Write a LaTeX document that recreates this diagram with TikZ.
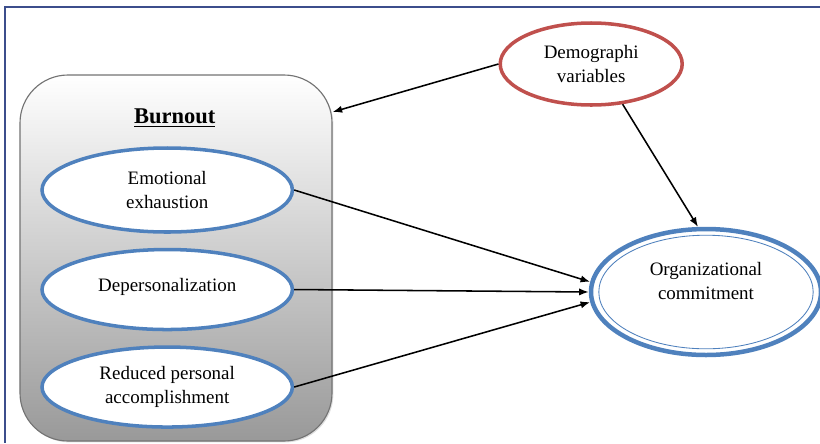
\documentclass[tikz,border=0pt]{standalone}
\usepackage{fontspec}
\setmainfont{Liberation Serif}
\usepackage{xcolor}
\usetikzlibrary{positioning, arrows.meta, shapes.geometric, shadows}

\definecolor{ovalblue}{RGB}{79,129,189}
\definecolor{ovalred}{RGB}{192,80,77}
\definecolor{framenavy}{RGB}{60,78,140}

\begin{document}
\begin{tikzpicture}[every node/.style={font=\fontsize{13.5}{17.5}\selectfont, align=center}]
    \useasboundingbox (0,0) rectangle (20.5,-11.075);
    % outer frame (top and left only)
    \draw[framenavy, line width=1.2pt] (20.5,-0.175) -- (0.125,-0.175) -- (0.125,-11.075);

    % burnout group
    \node[draw=gray!90!black, rounded corners=1.2cm, top color=white, bottom color=gray!80, line width=0.8pt,
          drop shadow={opacity=0.25, shadow xshift=1pt, shadow yshift=-1pt},
          minimum width=7.8cm, minimum height=9.15cm] (burnout) at (4.4,-6.45) {};
    \node[font=\fontsize{16}{19}\selectfont\bfseries] (title) at (4.37,-2.95) {\underline{Burnout}};

    \node[draw=ovalblue, ellipse, line width=2.5pt, fill=white, minimum width=6.26cm, minimum height=2.1cm] (ee) at (4.18,-4.75) {Emotional\\exhaustion};
    \node[draw=ovalblue, ellipse, line width=2.5pt, fill=white, minimum width=6.26cm, minimum height=2.0cm, text depth=0.25cm, below=0.35cm of ee] (dp) {Depersonalization};
    \node[draw=ovalblue, ellipse, line width=2.5pt, fill=white, minimum width=6.26cm, minimum height=2.0cm, below=0.35cm of dp] (rpa) {Reduced personal\\accomplishment};

    % outcome and moderator
    \node[draw=ovalred, ellipse, line width=2.5pt, fill=white, minimum width=4.55cm, minimum height=2.05cm] (demo) at (14.78,-1.6) {Demographi\\variables};
    \node[draw=ovalblue, ellipse, line width=3.2pt, fill=white, minimum width=5.75cm, minimum height=3.15cm, text depth=0.55cm] (org) at (17.65,-7.3) {Organizational\\commitment};
    \draw[ovalblue, line width=0.6pt] (org.center) ellipse [x radius=2.68cm, y radius=1.42cm];

    \draw[-{Latex[length=2.4mm]}, line width=1.1pt] (demo.west) -- (burnout.43);
    \draw[-{Latex[length=2.4mm]}, line width=1.1pt] (demo.-52) -- (org.97);
    \draw[-{Latex[length=2.4mm]}, line width=1.1pt] (ee.east) -- (org.175);
    \draw[-{Latex[length=2.4mm]}, line width=1.1pt] (dp.east) -- (org.180);
    \draw[-{Latex[length=2.4mm]}, line width=1.1pt] (rpa.east) -- (org.185);
\end{tikzpicture}
\end{document}
